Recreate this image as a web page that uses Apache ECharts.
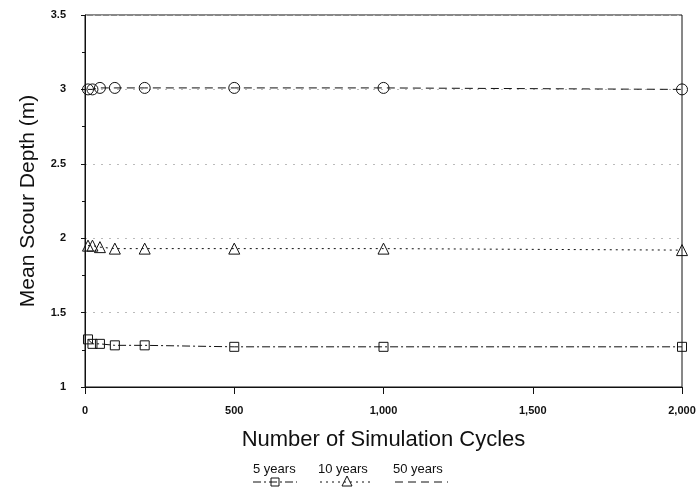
<!DOCTYPE html>
<html>
<head>
<meta charset="utf-8">
<script src="https://cdn.jsdelivr.net/npm/echarts@6/dist/echarts.min.js"></script>
<style>html,body{margin:0;padding:0;background:#fff}#c{width:700px;height:487px}</style>
</head>
<body>
<div id="c"></div>
<script>
var cycles = [10, 25, 50, 100, 200, 500, 1000, 2000];
var years5 = [1.32, 1.29, 1.29, 1.28, 1.28, 1.27, 1.27, 1.27];
var years10 = [1.95, 1.95, 1.94, 1.93, 1.93, 1.93, 1.93, 1.92];
var years50 = [3.00, 3.00, 3.01, 3.01, 3.01, 3.01, 3.01, 3.00];
var seriesNames = ['5 years', '10 years', '50 years'];
var yTicks = [1, 1.5, 2, 2.5, 3, 3.5];
var xTicks = [0, 500, 1000, 1500, 2000];

function pairs(ys) { return cycles.map(function (x, i) { return [x, ys[i]]; }); }
var FONT = '"Liberation Sans", Arial, sans-serif';
var chart = echarts.init(document.getElementById('c'));

function mkSeries(name, data, symbol, size, dash) {
  return {
    name: name, type: 'line', data: pairs(data),
    symbol: symbol, symbolSize: size,
    lineStyle: { color: '#111', width: 1, type: dash },
    itemStyle: { color: 'rgba(0,0,0,0)', borderColor: '#111', borderWidth: 1 },
    emphasis: { disabled: true }, animation: false
  };
}

chart.setOption({
  animation: false,
  grid: { left: 85, right: 18, top: 15, bottom: 100, show: true, borderColor: '#111', borderWidth: 1 },
  xAxis: {
    type: 'value', min: 0, max: 2000, interval: 500,
    name: 'Number of Simulation Cycles', nameLocation: 'middle', nameGap: 42,
    nameTextStyle: { fontFamily: FONT, fontSize: 22, color: '#111' },
    axisLine: { lineStyle: { color: '#111' } },
    axisTick: { show: true, inside: false, length: 7, lineStyle: { color: '#111' } },
    axisLabel: { fontFamily: FONT, fontSize: 11, fontWeight: 'bold', color: '#111', margin: 18,
      formatter: function (v) { return xTicks.indexOf(v) >= 0 ? v.toLocaleString('en-US') : ''; } },
    splitLine: { show: false }
  },
  yAxis: {
    type: 'value', min: 1, max: 3.5, interval: 0.5,
    name: 'Mean Scour Depth (m)', nameLocation: 'middle', nameGap: 46,
    nameTextStyle: { fontFamily: FONT, fontSize: 21, color: '#111' },
    axisLine: { lineStyle: { color: '#111' } },
    axisTick: { show: true, length: 4, lineStyle: { color: '#111' } },
    minorTick: { show: true, splitNumber: 2, length: 3, lineStyle: { color: '#111' } },
    axisLabel: { fontFamily: FONT, fontSize: 11, fontWeight: 'bold', color: '#111', margin: 19,
      formatter: function (v) { return yTicks.indexOf(v) >= 0 ? String(v) : ''; } },
    splitLine: { show: true, lineStyle: { color: '#bbb', type: [2, 6], width: 1 } }
  },
  series: [
    mkSeries(seriesNames[0], years5, 'rect', 9, [8, 3, 2, 3]),
    mkSeries(seriesNames[1], years10, 'triangle', 11, [2, 4]),
    mkSeries(seriesNames[2], years50, 'circle', 11, [8, 5])
  ],
  graphic: [
    { type: 'text', left: 253, top: 463, style: { text: seriesNames[0], font: '13px ' + FONT, fill: '#111' } },
    { type: 'text', left: 318, top: 463, style: { text: seriesNames[1], font: '13px ' + FONT, fill: '#111' } },
    { type: 'text', left: 393, top: 463, style: { text: seriesNames[2], font: '13px ' + FONT, fill: '#111' } },
    { type: 'line', shape: { x1: 253, y1: 482, x2: 297, y2: 482 }, style: { stroke: '#111', lineWidth: 1, lineDash: [8, 3, 2, 3] } },
    { type: 'rect', shape: { x: 271, y: 478, width: 8, height: 8 }, style: { stroke: '#111', fill: 'none', lineWidth: 1 } },
    { type: 'line', shape: { x1: 320, y1: 482, x2: 373, y2: 482 }, style: { stroke: '#111', lineWidth: 1, lineDash: [2, 4] } },
    { type: 'polygon', shape: { points: [[347, 476], [342, 486], [352, 486]] }, style: { stroke: '#111', fill: 'none', lineWidth: 1 } },
    { type: 'line', shape: { x1: 395, y1: 482, x2: 448, y2: 482 }, style: { stroke: '#111', lineWidth: 1, lineDash: [8, 5] } }
  ]
});
</script>
</body>
</html>
